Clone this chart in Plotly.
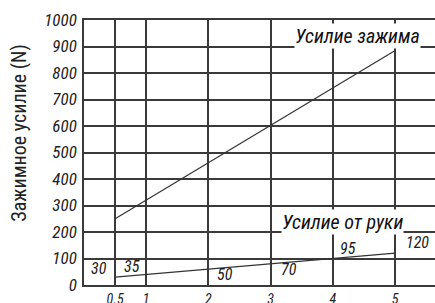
import plotly.graph_objects as go

# Data
clamp_x = [0.5, 5]
clamp_y = [250, 885]
hand_x = [0.5, 5]
hand_y = [30, 120]
hand_labels = ["30", "35", "50", "70", "95", "120"]
x_ticks = [0.5, 1, 2, 3, 4, 5]
x_ticktext = ["0.5", "1", "2", "3", "4", "5"]
y_ticks = [0, 100, 200, 300, 400, 500, 600, 700, 800, 900, 1000]
y_title = "Зажимное усилие (N)"
clamp_name = "Усилие зажима"
hand_name = "Усилие от руки"

# label placement (layout only)
hand_label_pos = [(0.24, 64), (0.77, 68), (2.27, 38), (3.29, 60), (4.24, 136), (5.36, 162)]

FONT = "Liberation Sans Narrow, Roboto Condensed, DejaVu Sans Condensed, Arial Narrow, sans-serif"
GRID = "#3a3a3a"

fig = go.Figure()
fig.add_trace(go.Scatter(x=clamp_x, y=clamp_y, mode="lines",
                         line=dict(color="#333333", width=1.2), showlegend=False))
fig.add_trace(go.Scatter(x=hand_x, y=hand_y, mode="lines",
                         line=dict(color="#333333", width=1.2), showlegend=False))

for txt, (lx, ly) in zip(hand_labels, hand_label_pos):
    fig.add_annotation(x=lx, y=ly, text=txt, showarrow=False, xanchor="center", yanchor="middle",
                       font=dict(family=FONT, size=16, color="#222", style="italic"))

fig.add_annotation(x=4.39, y=940, text=clamp_name, showarrow=False, xanchor="center", yanchor="middle",
                   bgcolor="white", borderpad=0,
                   font=dict(family=FONT, size=20, color="#111", style="italic"))
fig.add_annotation(x=4.16, y=238, text=hand_name, showarrow=False, xanchor="center", yanchor="middle",
                   bgcolor="white", borderpad=0,
                   font=dict(family=FONT, size=20, color="#111", style="italic"))

fig.add_annotation(xref="paper", yref="paper", x=-0.185, y=0.575, text=y_title, showarrow=False,
                   textangle=-90, xanchor="center", yanchor="middle",
                   font=dict(family=FONT, size=20, color="#222"))

fig.update_layout(
    width=435, height=303,
    margin=dict(l=84, r=0, t=20, b=18),
    paper_bgcolor="white", plot_bgcolor="white",
    xaxis=dict(range=[0, 5.64], tickvals=x_ticks, ticktext=x_ticktext, automargin=False,
               showgrid=True, gridcolor=GRID, gridwidth=1.6,
               showline=True, linecolor=GRID, linewidth=1.6, mirror=True,
               zeroline=False, ticks="", ticklabelstandoff=0,
               tickfont=dict(family=FONT, size=14, color="#222", style="italic")),
    yaxis=dict(range=[0, 1000], tickvals=y_ticks, automargin=False,
               showgrid=True, gridcolor=GRID, gridwidth=1.6,
               showline=True, linecolor=GRID, linewidth=1.6,
               zeroline=False, ticks="", ticklabelstandoff=2,
               tickfont=dict(family=FONT, size=17, color="#222", style="italic")),
)

fig.write_html("out.html", config={"displayModeBar": False},
               post_script="document.body.style.margin='0';document.body.style.overflow='hidden';")
